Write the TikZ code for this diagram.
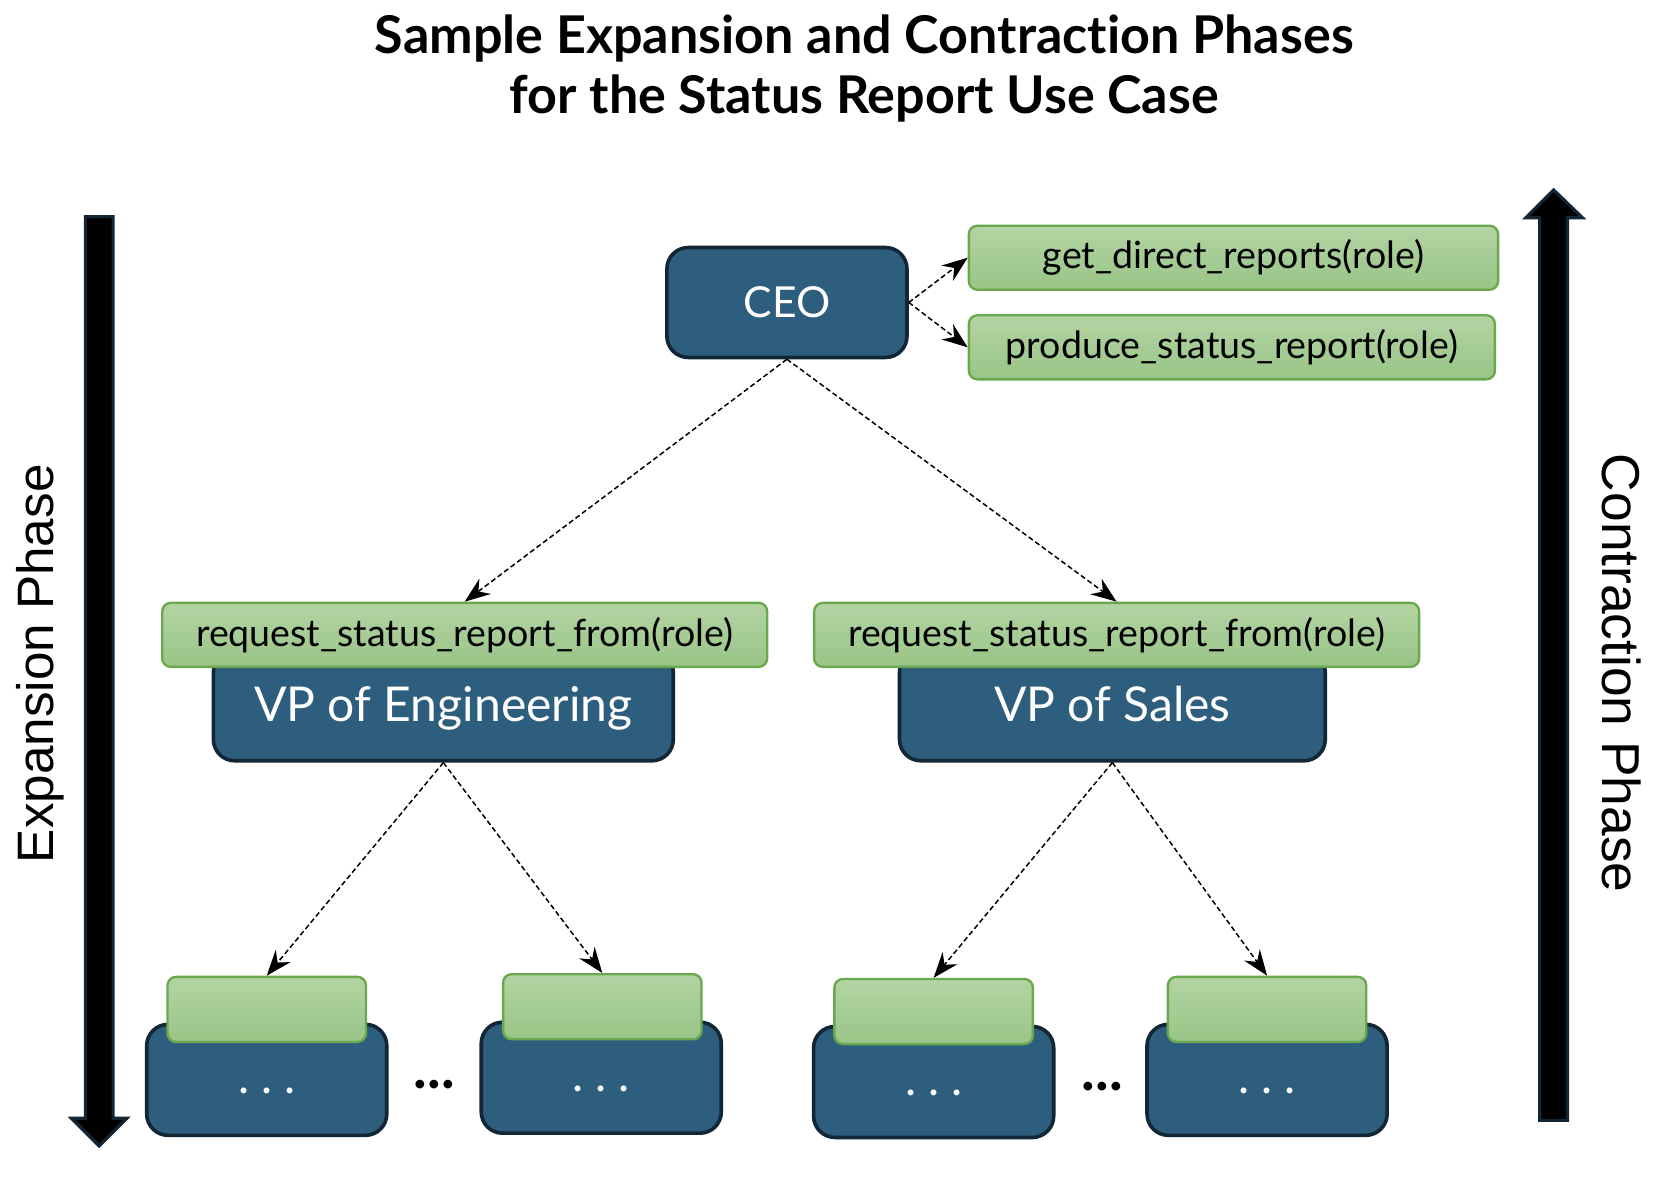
\documentclass[tikz,border=0pt]{standalone}
\usepackage{fontspec}
\setmainfont{Lato}[Ligatures=NoCommon]
\newfontfamily\arialfont{Liberation Sans}
\usetikzlibrary{arrows.meta}
\definecolor{boxblue}{HTML}{2E5E7E}
\definecolor{boxedge}{HTML}{122636}
\definecolor{greentop}{HTML}{B3D4A3}
\definecolor{greenbot}{HTML}{99C487}
\definecolor{greenedge}{HTML}{6AA84F}
\begin{document}
\begin{tikzpicture}[x=0.5pt,y=-0.5pt,
  bluebox/.style={draw=boxedge, line width=1.7pt, fill=boxblue, rounded corners=10pt,
    text=white, inner sep=0pt},
  ceobox/.style={bluebox, minimum width=112.5pt, minimum height=51.5pt, font=\fontsize{20}{24}\selectfont},
  vpbox/.style={bluebox, minimum height=51.5pt, font=\fontsize{22.5}{27}\selectfont,
    text height=17pt, text depth=2pt},
  leafbox/.style={bluebox, minimum width=112.5pt, minimum height=52pt,
    font=\fontsize{22}{26}\selectfont, text height=15pt, text depth=2.5pt},
  greenbox/.style={draw=greenedge, line width=1.1pt, top color=greentop, bottom color=greenbot,
    rounded corners=4pt, text=black, inner sep=0pt, minimum height=30pt,
    font=\fontsize{17.6}{21}\selectfont},
  leafgreen/.style={greenbox, minimum width=93pt, minimum height=30.5pt},
  flow/.style={dash pattern=on 2.4pt off 1.4pt, line width=0.7pt,
    -{Stealth[length=12pt,width=9pt,inset=4pt]}},
  bigarrow/.style={fill=black, draw=boxedge, line width=1.5pt, line join=miter},
  gapdots/.style={font=\fontsize{27}{30}\selectfont\bfseries, inner sep=0pt},
  phase/.style={font=\arialfont\fontsize{24}{28}\selectfont, inner sep=0pt}]
\useasboundingbox (0,0) rectangle (1567,1108);

% title
\node[align=center, font=\fontsize{24.4}{28}\selectfont\bfseries] (title) at (810,64)
  {Sample Expansion and Contraction Phases\\for the Status Report Use Case};

% phase arrows
\draw[bigarrow] (80,203) -- (106,203) -- (106,1048) -- (119,1048) -- (93,1074)
  -- (67,1048) -- (80,1048) -- cycle;
\draw[bigarrow] (1443,1050) -- (1469,1050) -- (1469,204) -- (1483,204) -- (1456,178)
  -- (1430,204) -- (1443,204) -- cycle;
\node[phase, rotate=90] (exp) at (38,622) {Expansion Phase};
\node[phase, rotate=-90, font=\arialfont\fontsize{25}{29}\selectfont] (con) at (1520,631) {Contraction Phase};

% CEO
\node[ceobox] (ceo) at (737.5,283.5) {CEO};
\node[greenbox, minimum width=248pt] (get) at (1156,241.5) {get\_direct\_reports(role)};
\node[greenbox, minimum width=246.5pt] (prod) at (1154.5,325.5) {produce\_status\_report(role)};

% VPs
\node[vpbox, minimum width=215.5pt] (vpe) at (415.5,661.5) {VP of Engineering};
\node[greenbox, minimum width=283.5pt] (reql) at (435.5,595) {request\_status\_report\_from(role)};
\node[vpbox, minimum width=199.5pt] (vps) at (1042.5,661.5) {VP of Sales};
\node[greenbox, minimum width=283.5pt] (reqr) at (1046.5,595) {request\_status\_report\_from(role)};

% leaves
\node[leafbox] (b1) at (250,1012) {.\ .\ .};
\node[leafgreen] (g1) at (250,946) {};
\node[leafbox] (b2) at (563.5,1010) {.\ .\ .};
\node[leafgreen] (g2) at (564.5,943.5) {};
\node[leafbox] (b3) at (875,1014) {.\ .\ .};
\node[leafgreen] (g3) at (875,948) {};
\node[leafbox] (b4) at (1187.5,1012) {.\ .\ .};
\node[leafgreen] (g4) at (1187.5,946) {};

\node[gapdots] (d1) at (407,1016) {...};
\node[gapdots] (d2) at (1033,1018) {...};

% connectors
\draw[flow] (ceo.east) -- (get.west);
\draw[flow] (ceo.east) -- (prod.west);
\draw[flow] (ceo.south) -- (reql.north);
\draw[flow] (ceo.south) -- (reqr.north);
\draw[flow] (vpe.south) -- (g1.north);
\draw[flow] (vpe.south) -- (g2.north);
\draw[flow] (vps.south) -- (g3.north);
\draw[flow] (vps.south) -- (g4.north);
\end{tikzpicture}
\end{document}
